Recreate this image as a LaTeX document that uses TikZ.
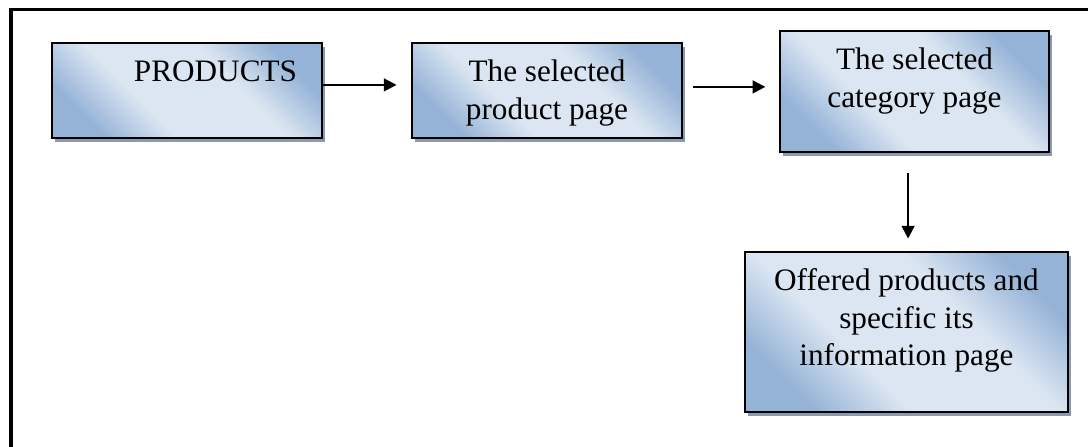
\documentclass[tikz,border=0pt]{standalone}
\usepackage{fontspec}
\setmainfont{Liberation Serif}
\usetikzlibrary{arrows.meta,shadows}
\definecolor{boxblue}{HTML}{95B3D7}
\definecolor{boxlight}{HTML}{DCE6F2}
\definecolor{boxshadow}{HTML}{8A9BB0}
\pgfdeclarehorizontalshading{pagefill}{100bp}{color(0bp)=(boxblue); color(25bp)=(boxblue); color(39bp)=(boxlight); color(61bp)=(boxlight); color(75bp)=(boxblue); color(100bp)=(boxblue)}
\newcommand{\boxtext}[4]{\parbox[c][#2][t]{#1}{#3\rule{0pt}{0.975cm}#4}}
\begin{document}
\begin{tikzpicture}[x=0.025cm, y=-0.025cm, line join=miter, >={Triangle[length=0.32cm,width=0.32cm]}]
	\tikzset{every node/.style={font=\fontsize{22.2}{26.5}\selectfont},
		pagebox/.style={draw=black, line width=0.07cm, inner sep=0pt,
			shading=pagefill, shading angle=45,
			drop shadow={shadow xshift=0.08cm, shadow yshift=-0.09cm, fill=boxshadow, opacity=1}},
		link/.style={->, line width=0.055cm}}
	\useasboundingbox (0,0) rectangle (1088,447);
	\draw[line width=0.075cm] (11,447) -- (11,9.5) -- (1088,9.5);
	\node[pagebox] (products) at (187,90.5) {\boxtext{6.75cm}{2.375cm}{\raggedleft}{PRODUCTS\hspace*{0.625cm}}};
	\node[pagebox] (product) at (547,90.5) {\boxtext{6.75cm}{2.375cm}{\centering}{The selected\\product page}};
	\node[pagebox] (category) at (914.5,91.5) {\boxtext{6.725cm}{3.025cm}{\centering}{The selected\\category page}};
	\node[pagebox] (info) at (906.5,332) {\boxtext{8.075cm}{4cm}{\centering}{Offered products and\\specific its\\information page}};
	\draw[link, shorten >=0.35cm] ([yshift=0.14cm]products.east) -- ([yshift=0.14cm]products.east -| product.west);
	\draw[link, shorten <=0.25cm, shorten >=0.33cm] ([yshift=0.09cm]product.east) -- ([yshift=0.09cm]product.east -| category.west);
	\draw[link, shorten <=0.5cm, shorten >=0.3cm] ([xshift=-0.16cm]category.south) -- ([xshift=-0.16cm]category.south |- info.north);
\end{tikzpicture}
\end{document}
